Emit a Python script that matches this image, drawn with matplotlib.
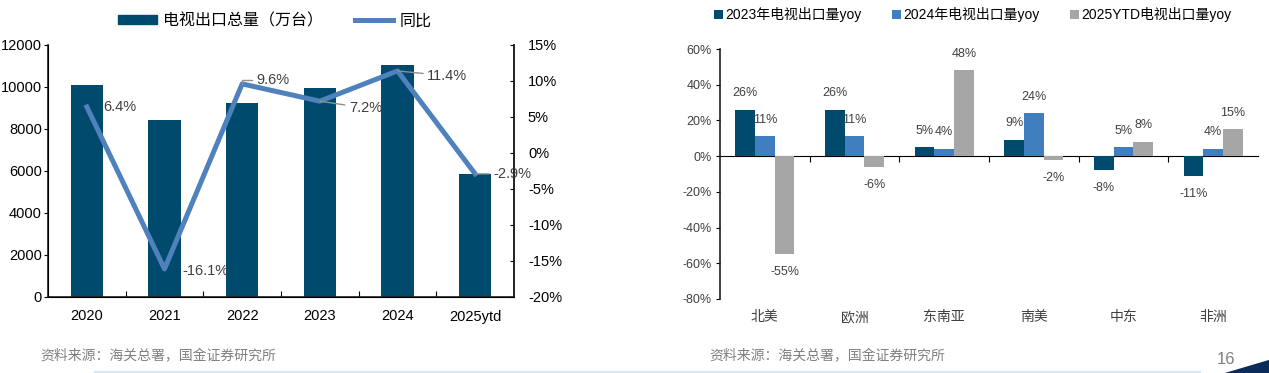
import matplotlib
matplotlib.use("Agg")
import matplotlib.pyplot as plt
from matplotlib import font_manager as fm
from matplotlib.patches import Patch, Polygon
from matplotlib.lines import Line2D
import numpy as np

# ---------------- data ----------------
years = ["2020", "2021", "2022", "2023", "2024", "2025ytd"]
export_volume = [10100, 8450, 9250, 9950, 11050, 5880]      # 万台
export_yoy = [6.4, -16.1, 9.6, 7.2, 11.4, -2.9]             # %

regions = ["北美", "欧洲", "东南亚", "南美", "中东", "非洲"]
yoy_2023 = [26, 26, 5, 9, -8, -11]
yoy_2024 = [11, 11, 4, 24, 5, 4]
yoy_2025 = [-55, -6, 48, -2, 8, 15]
series_names = ["2023年电视出口量yoy", "2024年电视出口量yoy", "2025YTD电视出口量yoy"]

left_yticks = [0, 2000, 4000, 6000, 8000, 10000, 12000]
right_yticks = [-20, -15, -10, -5, 0, 5, 10, 15]
region_yticks = [-80, -60, -40, -20, 0, 20, 40, 60]
source_text = "资料来源：海关总署，国金证券研究所"

# ---------------- style ----------------
names = {f.name for f in fm.fontManager.ttflist}
NUM = "Liberation Sans" if "Liberation Sans" in names else "DejaVu Sans"
NARROW = "Liberation Sans Narrow" if "Liberation Sans Narrow" in names else NUM
CJK = "Noto Sans CJK SC"
plt.rcParams["font.family"] = [NUM, CJK, "DejaVu Sans"]

DARK = "#004A6E"
BLUE = "#4F81BD"
MID = "#3F7FBF"
GREY = "#A6A6A6"
TXT = "#404040"

fig = plt.figure(figsize=(12.69, 3.73), dpi=100)
W, H = 1269, 373

def fx(px):
    return px / W

def fy(py):
    return 1 - py / H

# ---------------- left chart ----------------
ax1 = fig.add_axes([fx(48), fy(297), fx(514) - fx(48), fy(45) - fy(297)])
x = np.arange(len(years))
ax1.bar(x, export_volume, width=0.42, color=DARK, zorder=2)
ax1.set_xlim(-0.5, len(years) - 0.5)
ax1.set_ylim(0, 12000)
ax1.set_yticks(left_yticks)
ax1.set_xticks(x)
ax1.set_xticklabels(years, fontsize=10.5, family=[NUM])
ax1.set_xticks(np.arange(len(years) + 1)[1:-1] - 0.5, minor=True)
ax1.tick_params(axis="x", which="major", length=0, pad=9)
ax1.tick_params(axis="x", which="minor", direction="in", length=4, width=0.8)
ax1.tick_params(axis="y", direction="out", length=3, labelsize=10.5, pad=1.5)
ax1.spines["top"].set_visible(False)
for s in ("left", "bottom", "right"):
    ax1.spines[s].set_linewidth(1.2)
    ax1.spines[s].set_color("#202020")

ax2 = ax1.twinx()
ax2.plot(x, export_yoy, color=BLUE, lw=3.6, zorder=3)
ax2.set_ylim(-20, 15)
ax2.set_yticks(right_yticks)
ax2.set_yticklabels([f"{v}%" for v in right_yticks])
ax2.tick_params(axis="y", direction="in", length=3, labelsize=10.5, pad=10)
ax2.spines["top"].set_visible(False)
ax2.spines["right"].set_linewidth(1.2)
ax2.spines["right"].set_color("#202020")

# label offsets (points) and whether a leader line is drawn
lab_off = [(11.5, 0), (13, -1.5), (10, 3), (21, -5), (21.5, -3.6), (13, 0)]
leader = [False, False, True, True, True, True]
for i, (v, off, ld) in enumerate(zip(export_yoy, lab_off, leader)):
    if ld:
        if i == 2:
            cs = "angle,angleA=0,angleB=90,rad=0"
        else:
            cs = "arc3,rad=0"
        ax2.annotate(f"{v}%", (x[i], v), xytext=off, textcoords="offset points",
                     ha="left", va="center", fontsize=10.5, color=TXT,
                     arrowprops=dict(arrowstyle="-", color="#909090", lw=1,
                                     shrinkA=1, shrinkB=0, connectionstyle=cs))
    else:
        ax2.annotate(f"{v}%", (x[i], v), xytext=off, textcoords="offset points",
                     ha="left", va="center", fontsize=10.5, color=TXT)

handles = [Patch(color=DARK), Line2D([0], [0], color=BLUE, lw=3.6)]
fig.legend(handles, ["电视出口总量（万台）", "同比"], loc="center",
           bbox_to_anchor=(fx(275), fy(21)), ncol=2, frameon=False,
           prop=dict(family=[CJK], size=11.5), handlelength=2.4, handleheight=0.5,
           handletextpad=0.4, columnspacing=2.0)

fig.text(fx(40), fy(356), source_text, family=[CJK], fontsize=10,
         color="#808080", ha="left", va="center")

# ---------------- right chart ----------------
ax3 = fig.add_axes([fx(720), fy(299), fx(1258) - fx(720), fy(49) - fy(299)])
xr = np.arange(len(regions))
bw = 0.22
data_sets = [yoy_2023, yoy_2024, yoy_2025]
colors = [DARK, MID, GREY]
offsets = [-bw, 0, bw]
for vals, col, off, name in zip(data_sets, colors, offsets, series_names):
    ax3.bar(xr + off, vals, width=bw, color=col, label=name, zorder=2)
    for xi, v in zip(xr, vals):
        ax3.annotate(f"{v}%", (xi + off, v), xytext=(0, 12 if v >= 0 else -13),
                     textcoords="offset points", ha="center", va="center",
                     fontsize=9, family=[NARROW], color=TXT)

ax3.set_xlim(-0.5, len(regions) - 0.5)
ax3.set_ylim(-80, 60)
ax3.set_yticks(region_yticks)
ax3.set_yticklabels([f"{v}%" for v in region_yticks], family=[NARROW])
ax3.tick_params(axis="y", direction="out", length=3, labelsize=9, pad=3,
                labelcolor=TXT)
ax3.set_xticks(xr)
ax3.set_xticklabels(regions, family=[CJK], fontsize=10, color=TXT)
ax3.tick_params(axis="x", length=0, pad=8)
for s in ("top", "right", "bottom"):
    ax3.spines[s].set_visible(False)
ax3.spines["left"].set_linewidth(1.2)
ax3.spines["left"].set_color("#202020")

sec = ax3.secondary_xaxis(80 / 140)
sec.set_xticks(np.arange(1, len(regions)) - 0.5)
sec.set_xticklabels([])
sec.tick_params(direction="in", length=4, width=0.8)
sec.spines["bottom"].set_linewidth(1.2)
sec.spines["bottom"].set_color("#202020")

h3, l3 = ax3.get_legend_handles_labels()
fig.legend(h3, l3, loc="center", bbox_to_anchor=(fx(973), fy(15)), ncol=3,
           frameon=False, prop=dict(family=[NARROW, CJK], size=10),
           handlelength=0.6, handleheight=0.6, handletextpad=0.2,
           columnspacing=2.2)

fig.text(fx(709), fy(356), source_text, family=[CJK], fontsize=10,
         color="#808080", ha="left", va="center")
fig.text(fx(1226), fy(359), "16", fontsize=12, color="#808080",
         ha="center", va="center")

# decorative bottom band
fig.add_artist(Line2D([fx(95), fx(1200)], [fy(371.5), fy(371.5)],
                      color="#D6E8F5", lw=1.5, transform=fig.transFigure))
fig.add_artist(Polygon([[fx(1225), fy(373)], [fx(1269), fy(373)],
                        [fx(1269), fy(360)]], closed=True,
                       color="#0B2C5A", transform=fig.transFigure))

fig.savefig("out.png", dpi=100)
